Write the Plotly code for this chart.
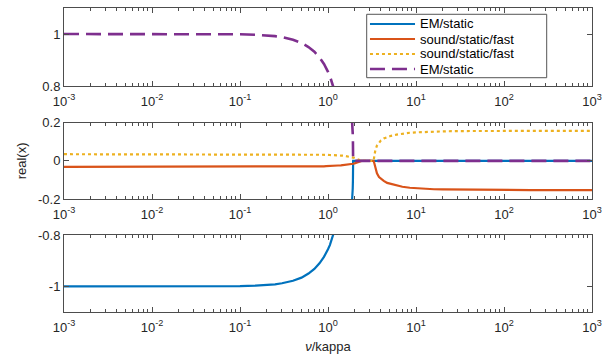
import plotly.graph_objects as go

# nu/kappa sample points shared by all branches
nu = [0.001, 0.01, 0.05, 0.1, 0.15, 0.2, 0.25, 0.3, 0.4, 0.5, 0.6, 0.7, 0.8,
      0.9, 0.95, 1.0, 1.05, 1.1, 1.15, 1.2, 1.25, 1.3, 1.4, 1.5, 1.6, 1.7, 1.75,
      1.8, 1.85, 1.88, 1.9, 1.91, 1.92, 1.925, 1.93, 2.0, 2.1, 2.2, 2.3, 2.35,
      2.4, 2.6, 2.8, 3.0, 3.2, 3.3, 3.36, 3.45, 3.6, 3.8, 4.0, 4.3, 4.7, 5.2,
      6.0, 7.0, 8.5, 10, 13, 16, 20, 30, 40, 60, 100, 200, 1000]

# real part of each root
em_upper = [1.0, 1.0, 1.0, 0.999, 0.997, 0.995, 0.992, 0.988, 0.978, 0.966,
            0.950, 0.932, 0.910, 0.885, 0.871, 0.855, 0.839, 0.822, 0.803,
            0.783, 0.762, 0.739, 0.688, 0.629, 0.559, 0.474, 0.422, 0.361,
            0.285, 0.226, 0.176, 0.144, 0.102, 0.072, 0.0,
            0.0, 0.0, 0.0, 0.0, 0.0, 0.0, 0.0, 0.0, 0.0, 0.0, 0.0, 0.0, 0.0,
            0.0, 0.0, 0.0, 0.0, 0.0, 0.0, 0.0, 0.0, 0.0, 0.0, 0.0, 0.0, 0.0,
            0.0, 0.0, 0.0, 0.0, 0.0, 0.0]
em_lower = [-1.0, -1.0, -1.0, -0.999, -0.997, -0.995, -0.992, -0.988, -0.978,
            -0.966, -0.950, -0.932, -0.910, -0.885, -0.871, -0.855, -0.839,
            -0.822, -0.803, -0.783, -0.762, -0.739, -0.688, -0.629, -0.559,
            -0.474, -0.422, -0.361, -0.285, -0.226, -0.176, -0.144, -0.102,
            -0.072, 0.0,
            0.0, 0.0, 0.0, 0.0, 0.0, 0.0, 0.0, 0.0, 0.0, 0.0, 0.0, 0.0, 0.0,
            0.0, 0.0, 0.0, 0.0, 0.0, 0.0, 0.0, 0.0, 0.0, 0.0, 0.0, 0.0, 0.0,
            0.0, 0.0, 0.0, 0.0, 0.0, 0.0]
sound_lower = [-0.031, -0.031, -0.031, -0.031, -0.031, -0.031, -0.031, -0.030,
               -0.030, -0.030, -0.029, -0.029, -0.028, -0.028, -0.027, -0.027,
               -0.026, -0.026, -0.025, -0.025, -0.024, -0.024, -0.023, -0.022,
               -0.020, -0.019, -0.019, -0.018, -0.017, -0.017, -0.016, -0.016,
               -0.016, -0.015, -0.015,
               -0.013, -0.010, -0.007, -0.004, -0.002,
               0.0, 0.0, 0.0, 0.0, 0.0,
               0.0, -0.012, -0.040, -0.065, -0.084,
               -0.094, -0.104, -0.115, -0.121, -0.129,
               -0.135, -0.140, -0.143, -0.146, -0.148,
               -0.149, -0.150, -0.151, -0.151, -0.152,
               -0.152, -0.152]
sound_upper = [0.035, 0.035, 0.035, 0.035, 0.035, 0.035, 0.035, 0.035,
               0.035, 0.034, 0.034, 0.034, 0.033, 0.033, 0.032, 0.032, 0.031,
               0.031, 0.030, 0.030, 0.029, 0.029, 0.028, 0.027, 0.025, 0.024,
               0.023, 0.022, 0.021, 0.020, 0.020, 0.019, 0.019, 0.019, 0.019,
               0.016, 0.012, 0.008, 0.004, 0.002,
               0.0, 0.0, 0.0, 0.0, 0.0,
               0.0, 0.025, 0.055, 0.080, 0.097,
               0.107, 0.117, 0.125, 0.131, 0.137,
               0.142, 0.147, 0.149, 0.152, 0.153,
               0.154, 0.156, 0.156, 0.157, 0.157,
               0.157, 0.157]

series = [
    ("EM/static", em_lower, "#0072BD", "solid", 2.2),
    ("sound/static/fast", sound_lower, "#D95319", "solid", 2.2),
    ("sound/static/fast", sound_upper, "#EDB120", "3px,3px", 2.2),
    ("EM/static", em_upper, "#7E2F8E", "15px,7px", 2.6),
]

x_tickvals = [1e-3, 1e-2, 1e-1, 1e0, 1e1, 1e2, 1e3]
x_ticktext = ["10<sup>-3</sup>", "10<sup>-2</sup>", "10<sup>-1</sup>",
              "10<sup>0</sup>", "10<sup>1</sup>", "10<sup>2</sup>", "10<sup>3</sup>"]

panels = [
    dict(domain=[0.743, 1.0], yrange=[0.8, 1.1], yticks=[0.8, 1.0], ytext=["0.8", "1"]),
    dict(domain=[0.371, 0.623], yrange=[-0.2, 0.2], yticks=[-0.2, 0.0, 0.2],
         ytext=["-0.2", "0", "0.2"]),
    dict(domain=[0.0, 0.253], yrange=[-1.1, -0.8], yticks=[-1.0, -0.8], ytext=["-1", "-0.8"]),
]

FONT = dict(family="Liberation Sans, Arial, sans-serif", size=13, color="#262626")
AXCOL = "#4d4d4d"

fig = go.Figure()
layout = dict(
    width=602, height=358,
    margin=dict(l=64, r=10, t=8, b=46, autoexpand=False),
    paper_bgcolor="white", plot_bgcolor="white",
    font=FONT,
    showlegend=False,
)

for i, p in enumerate(panels):
    n = "" if i == 0 else str(i + 1)
    xa, ya = "x" + n, "y" + n
    for name, vals, color, dash, w in series:
        fig.add_trace(go.Scatter(
            x=nu, y=vals, mode="lines", name=name, xaxis=xa, yaxis=ya,
            line=dict(color=color, dash=dash, width=w),
        ))
    layout["xaxis" + n] = dict(
        type="log", range=[-3, 3], anchor=ya, domain=[0, 1], automargin=False,
        tickvals=x_tickvals, ticktext=x_ticktext, ticklabelstandoff=3,
        ticks="inside", ticklen=5, tickcolor=AXCOL,
        showline=True, linecolor=AXCOL, linewidth=1, mirror="ticks",
        showgrid=False, zeroline=False,
        minor=dict(ticks="inside", ticklen=3, tickcolor=AXCOL, dtick="D1", showgrid=False),
        tickfont=FONT,
    )
    layout["yaxis" + n] = dict(
        range=p["yrange"], domain=p["domain"], anchor=xa, automargin=False,
        tickvals=p["yticks"], ticktext=p["ytext"],
        ticks="inside", ticklen=5, tickcolor=AXCOL,
        showline=True, linecolor=AXCOL, linewidth=1, mirror="ticks",
        showgrid=False, zeroline=False, tickfont=FONT,
    )

layout["yaxis2"]["title"] = dict(text="real(x)", font=FONT, standoff=8)
layout["xaxis3"]["title"] = dict(text="<i>ν</i>/kappa", font=FONT, standoff=8)

# legend box drawn on the top panel
box = dict(x0=0.5733, x1=0.9142, y0=0.7707, y1=0.9793)
rows_y = [0.9474, 0.8980, 0.8487, 0.7993]
sample_x = (0.5795, 0.6648)
text_x = 0.6705

shapes = [dict(type="rect", xref="paper", yref="paper", layer="above",
               fillcolor="white", line=dict(color="#555555", width=1), **box)]
annotations = []
for (name, _, color, dash, w), yy in zip(series, rows_y):
    shapes.append(dict(type="line", xref="paper", yref="paper", layer="above",
                       x0=sample_x[0], x1=sample_x[1], y0=yy, y1=yy,
                       line=dict(color=color, dash=dash, width=w)))
    annotations.append(dict(text=name, xref="paper", yref="paper", x=text_x, y=yy,
                            xanchor="left", yanchor="middle", showarrow=False,
                            font=dict(family=FONT["family"], size=13, color="#000000")))
layout["shapes"] = shapes
layout["annotations"] = annotations

fig.update_layout(**layout)
fig.write_html("out.html")
